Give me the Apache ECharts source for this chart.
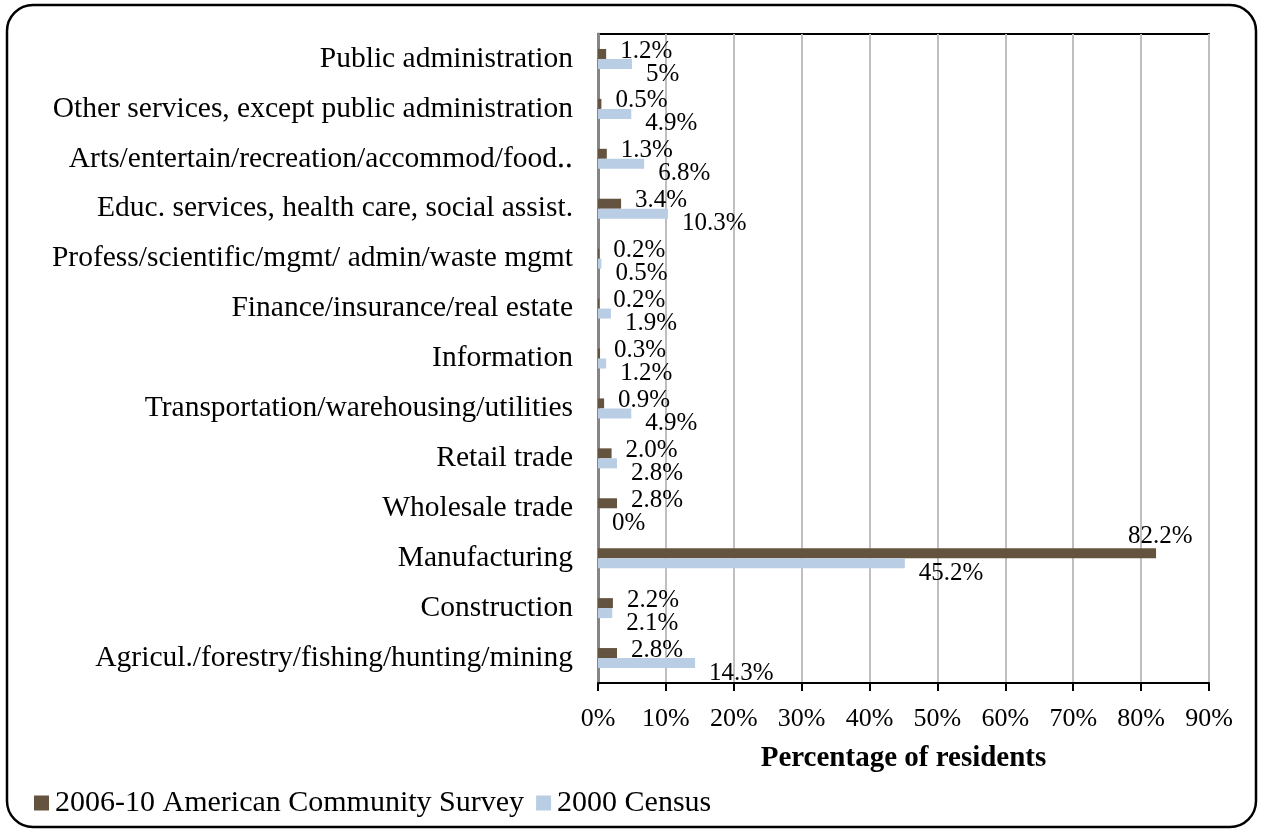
<!DOCTYPE html>
<html>
<head>
<meta charset="utf-8">
<script src="https://cdn.jsdelivr.net/npm/echarts@6/dist/echarts.min.js"></script>
<style>
  html, body { margin: 0; padding: 0; background: #fff; }
  #chart { width: 1261px; height: 831px; }
</style>
</head>
<body>
<div id="chart"></div>
<script>
// categories listed bottom to top
const categories = [
  "Agricul./forestry/fishing/hunting/mining",
  "Construction",
  "Manufacturing",
  "Wholesale trade",
  "Retail trade",
  "Transportation/warehousing/utilities",
  "Information",
  "Finance/insurance/real estate",
  "Profess/scientific/mgmt/ admin/waste mgmt",
  "Educ. services, health care, social assist.",
  "Arts/entertain/recreation/accommod/food\u2025",
  "Other services, except public administration",
  "Public administration"
];
const acs2010 = [2.8, 2.2, 82.2, 2.8, 2.0, 0.9, 0.3, 0.2, 0.2, 3.4, 1.3, 0.5, 1.2];
const census2000 = [14.3, 2.1, 45.2, 0, 2.8, 4.9, 1.2, 1.9, 0.5, 10.3, 6.8, 4.9, 5];
const xTicks = [0, 10, 20, 30, 40, 50, 60, 70, 80, 90];

const FONT = "'Liberation Serif', 'Times New Roman', serif";
const BROWN = "#64543F";
const BLUE = "#B9CDE5";

const chart = echarts.init(document.getElementById("chart"));

chart.setOption({
  animation: false,
  textStyle: { fontFamily: FONT, color: "#000" },
  graphic: [
    {
      type: "rect",
      shape: { x: 7, y: 5, width: 1249, height: 822, r: 26 },
      style: { fill: "none", stroke: "#000", lineWidth: 2.5 }
    }
  ],
  legend: {
    left: 29,
    top: 783,
    itemWidth: 15,
    itemHeight: 15,
    itemGap: 12,
    icon: "rect",
    data: ["2006-10 American Community Survey", "2000 Census"],
    textStyle: { fontFamily: FONT, fontSize: 30, color: "#000", padding: [0, 0, 0, 1] }
  },
  grid: {
    left: 598,
    right: 52,
    top: 34,
    bottom: 148,
    show: true,
    borderColor: "#000",
    borderWidth: 2
  },
  xAxis: {
    type: "value",
    min: xTicks[0],
    max: xTicks[xTicks.length - 1],
    interval: 10,
    name: "Percentage of residents",
    nameLocation: "middle",
    nameGap: 61,
    nameTextStyle: { fontFamily: FONT, fontSize: 29, fontWeight: "bold", color: "#000" },
    axisLine: { show: true, lineStyle: { color: "#000", width: 2 } },
    axisTick: { show: true, length: 8, inside: false, lineStyle: { color: "#000", width: 2 } },
    axisLabel: {
      margin: 23,
      fontFamily: FONT,
      fontSize: 26,
      color: "#000",
      formatter: v => v + "%"
    },
    splitLine: { show: true, lineStyle: { color: "#BFBFBF", width: 2 } }
  },
  yAxis: {
    type: "category",
    data: categories,
    axisLine: { show: true, lineStyle: { color: "#868686", width: 3 } },
    axisTick: { show: false },
    axisLabel: { margin: 25, fontFamily: FONT, fontSize: 29.5, color: "#000" }
  },
  series: [
    {
      name: "2006-10 American Community Survey",
      type: "bar",
      barWidth: 10,
      barGap: "0%",
      itemStyle: { color: BROWN },
      data: acs2010.map((v, i) => categories[i] === "Manufacturing"
        ? { value: v, label: { offset: [-42, -17] } }
        : v),
      label: {
        show: true,
        position: "right",
        distance: 14,
        offset: [0, -3],
        fontFamily: FONT,
        fontSize: 25,
        color: "#000",
        formatter: p => p.value.toFixed(1) + "%"
      }
    },
    {
      name: "2000 Census",
      type: "bar",
      barWidth: 10,
      barGap: "0%",
      itemStyle: { color: BLUE },
      data: census2000,
      label: {
        show: true,
        position: "right",
        distance: 14,
        offset: [0, 10],
        fontFamily: FONT,
        fontSize: 25,
        color: "#000",
        formatter: p => p.value + "%"
      }
    }
  ]
});
</script>
</body>
</html>
